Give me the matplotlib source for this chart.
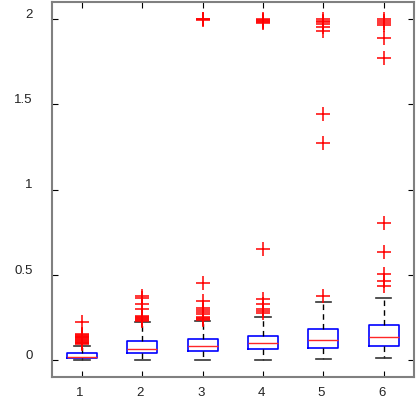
import matplotlib
matplotlib.use("Agg")
import matplotlib.pyplot as plt
from matplotlib.transforms import ScaledTranslation

plt.rcParams['font.family'] = ['Liberation Sans', 'DejaVu Sans']

groups = [1, 2, 3, 4, 5, 6]
q1 = [0.013, 0.042, 0.054, 0.069, 0.071, 0.085]
med = [0.022, 0.067, 0.083, 0.104, 0.118, 0.140]
q3 = [0.042, 0.114, 0.126, 0.145, 0.183, 0.208]
whislo = [0.000, 0.003, 0.000, 0.003, 0.009, 0.016]
whishi = [0.087, 0.224, 0.231, 0.257, 0.343, 0.368]
fliers = [
    [0.095, 0.10, 0.105, 0.11, 0.115, 0.12, 0.125, 0.13, 0.135, 0.14, 0.145, 0.15, 0.155, 0.227],
    [0.232, 0.238, 0.244, 0.25, 0.256, 0.262, 0.30, 0.333, 0.364, 0.38],
    [0.236, 0.242, 0.248, 0.254, 0.275, 0.285, 0.295, 0.305, 0.35, 0.452, 1.995, 2.0, 2.003],
    [0.278, 0.29, 0.30, 0.33, 0.36, 0.653, 1.975, 1.985, 1.99, 1.995, 2.0],
    [0.378, 1.275, 1.444, 1.93, 1.955, 1.97, 1.98, 1.99, 2.0],
    [0.436, 0.467, 0.505, 0.634, 0.807, 1.772, 1.89, 1.965, 1.975, 1.99, 2.0],
]
yticks = [0, 0.5, 1, 1.5, 2]
yticklabels = ["0", "0.5", "1", "1.5", "2"]

stats = []
for i in range(len(groups)):
    stats.append(dict(q1=q1[i], med=med[i], q3=q3[i], whislo=whislo[i],
                      whishi=whishi[i], fliers=fliers[i], label=str(groups[i])))

fig = plt.figure(figsize=(4.18, 4.03), dpi=100)
ax = fig.add_axes([0.124, 0.0645, 0.866, 0.9305])

ax.bxp(stats, positions=groups, widths=0.5, showfliers=True,
       boxprops=dict(color=(0, 0, 1), linewidth=1.2),
       medianprops=dict(color=(1, 0.15, 0.15), linewidth=1.0),
       whiskerprops=dict(color="black", linewidth=1.0, linestyle=(0, (4, 3))),
       capprops=dict(color="#333333", linewidth=1.2),
       flierprops=dict(marker="+", markeredgecolor=(1, 0, 0), markersize=10,
                       markeredgewidth=1.1, linestyle="none"),
       capwidths=0.25)

ax.set_xlim(0.5, 6.5)
ax.set_ylim(-0.097, 2.1)
ax.set_xticks(groups)
ax.set_xticklabels([str(g) for g in groups])
ax.set_yticks(yticks)
ax.set_yticklabels(yticklabels)
ax.tick_params(direction="in", length=4, width=0.8, colors="black",
               top=True, right=True, labelsize=9.5)
ax.tick_params(axis="x", pad=7)
ax.tick_params(axis="y", pad=14)
for lab in ax.get_xticklabels() + ax.get_yticklabels():
    lab.set_color("#222222")
for lab in ax.get_xticklabels():
    lab.set_transform(lab.get_transform() + ScaledTranslation(-2 / 100, 0, fig.dpi_scale_trans))
for lab in ax.get_yticklabels():
    lab.set_transform(lab.get_transform() + ScaledTranslation(0, 6 / 100, fig.dpi_scale_trans))
for s in ax.spines.values():
    s.set_color("#808080")
    s.set_linewidth(1.5)

fig.savefig("out.png", dpi=100)
